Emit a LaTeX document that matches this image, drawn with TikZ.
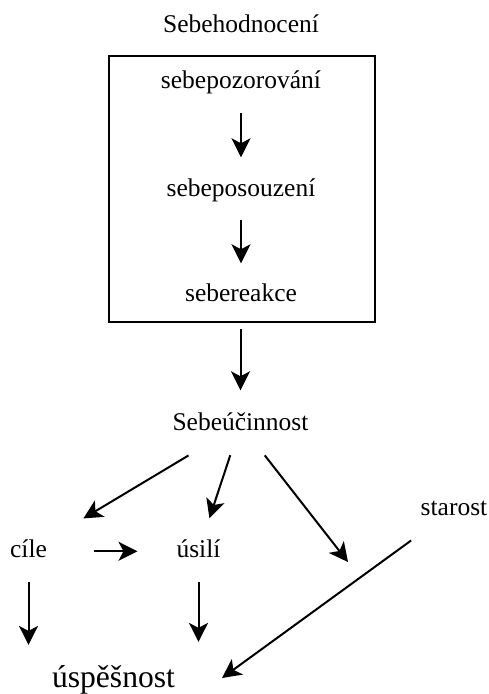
\documentclass[tikz,border=0pt]{standalone}
\usepackage{fontspec}
\setmainfont{Liberation Serif}
\usetikzlibrary{arrows.meta}

\begin{document}
\begin{tikzpicture}[
  x=0.5pt, y=-0.5pt,
  >={Stealth[length=9.5pt,width=9.5pt,inset=2.5pt]},
  line width=1pt,
  txt/.style={inner sep=0pt, anchor=base, text height=5.7pt, text depth=0pt,
    font=\fontsize{12.75}{15}\selectfont},
  big/.style={txt, text height=7.1pt, font=\fontsize{15.8}{18}\selectfont}
]
  \useasboundingbox (0,0) rectangle (488,694);
  % Self-evaluation: the framed chain of three steps.
  \node[txt] (sebehod) at (241,33) {Sebehodnocení};
  \node[draw, line width=1pt, inner sep=0pt, minimum width=133pt,
    minimum height=133.3pt] (box) at (241.5,189) {};
  \node[txt] (pozor) at (241,89) {sebepozorování};
  \node[txt] (posouz) at (241,197) {sebeposouzení};
  \node[txt] (reakce) at (241,302) {sebereakce};

  % Lower part of the scheme.
  \node[txt] (sebeuc) at (240.5,430) {Sebeúčinnost};
  \node[txt] (cile) at (28.5,557) {cíle};
  \node[txt] (usili) at (198.5,557) {úsilí};
  \node[txt] (starost) at (454,515) {starost};
  \node[big] (uspech) at (113.5,687) {úspěšnost};
  \coordinate (tipA) at (348,562);
  \coordinate (tipB) at (222,678);

  \draw[->, shorten <=15pt, shorten >=17pt] (pozor.center) -- (posouz.center);
  \draw[->, shorten <=14.5pt, shorten >=16.5pt] (posouz.center) -- (reakce.center);
  \draw[->, shorten <=3pt, shorten >=17pt] (box.south -| sebeuc.center) -- (sebeuc.center);
  \draw[->, shorten <=30.3pt, shorten >=32pt] (sebeuc.center) -- (cile.center);
  \draw[->, shorten <=16.3pt, shorten >=17.4pt] (sebeuc.center) -- (usili.center);
  \draw[->, shorten <=19.7pt] (sebeuc.center) -- (tipA);
  \draw[->, shorten <=32.5pt, shorten >=30.5pt] (cile.center) -- (usili.center);
  \draw[->, shorten <=15.5pt, shorten >=17.5pt] (cile.center) -- (cile.center |- uspech.center);
  \draw[->, shorten <=15.5pt, shorten >=19pt] (usili.center) -- (usili.center |- uspech.center);
  \draw[->, shorten <=26.5pt] (starost.center) -- (tipB);
\end{tikzpicture}
\end{document}
